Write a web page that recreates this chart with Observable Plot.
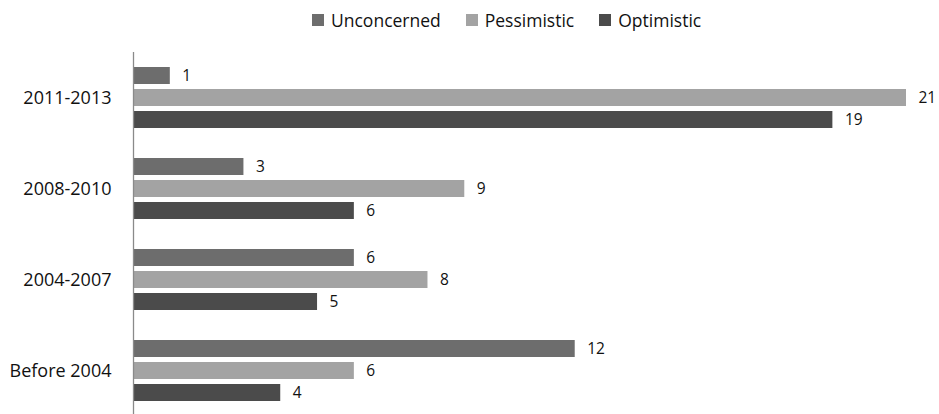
<!DOCTYPE html>
<html>
<head>
<meta charset="utf-8">
<script src="https://cdn.jsdelivr.net/npm/d3@7"></script>
<script src="https://cdn.jsdelivr.net/npm/@observablehq/plot@0.6"></script>
<style>
  html, body { margin: 0; padding: 0; background: #fff; overflow: hidden; }
  body { font-family: "Open Sans", sans-serif; color: #111; width: 939px; }
  #legend { height: 40px; display: flex; align-items: center; padding-left: 312px; font-size: 17.5px; }
  #legend .item { display: flex; align-items: center; margin-right: 25px; }
  #legend .sw { width: 12px; height: 12px; margin-right: 7px; }
</style>
</head>
<body>
<div id="legend"></div>
<div id="chart"></div>
<script>
// Time periods (top to bottom) and counts per attitude
const categories = ["2011-2013", "2008-2010", "2004-2007", "Before 2004"];
const seriesNames = ["Unconcerned", "Pessimistic", "Optimistic"];
const unconcerned = [1, 3, 6, 12];
const pessimistic = [21, 9, 8, 6];
const optimistic = [19, 6, 5, 4];
const colors = ["#6d6d6d", "#a3a3a3", "#4b4b4b"];

const valuesBySeries = [unconcerned, pessimistic, optimistic];
const data = [];
categories.forEach((category, i) => {
  seriesNames.forEach((series, j) => {
    data.push({category, series, value: valuesBySeries[j][i]});
  });
});

// Legend row
const legend = document.getElementById("legend");
seriesNames.forEach((name, j) => {
  const item = document.createElement("div");
  item.className = "item";
  const sw = document.createElement("span");
  sw.className = "sw";
  sw.style.background = colors[j];
  const label = document.createElement("span");
  label.textContent = name;
  item.append(sw, label);
  legend.append(item);
});

const chart = Plot.plot({
  width: 939,
  height: 377,
  marginTop: 11,
  marginBottom: 0,
  marginLeft: 133,
  marginRight: 33,
  style: {fontFamily: "Open Sans, sans-serif", fontSize: "15.5px", color: "#111", background: "#fff"},
  x: {domain: [0, 21]},
  y: {domain: seriesNames, paddingInner: 0.21, paddingOuter: 0.6},
  fy: {domain: categories, padding: 0},
  color: {domain: seriesNames, range: colors},
  marks: [
    Plot.barX(data, {x: "value", y: "series", fy: "category", fill: "series"}),
    Plot.text(data, {x: "value", y: "series", fy: "category", text: d => String(d.value), textAnchor: "start", dx: 12}),
    Plot.ruleX([0], {stroke: "#8a8a8a", strokeWidth: 1.3}),
    Plot.axisFy({anchor: "left", tickSize: 0, tickPadding: 22, fontSize: 18, label: null}),
    Plot.axisX({ticks: [], label: null, tickSize: 0}),
    Plot.axisY({ticks: [], label: null, tickSize: 0})
  ]
});
document.getElementById("chart").append(chart);
</script>
</body>
</html>
